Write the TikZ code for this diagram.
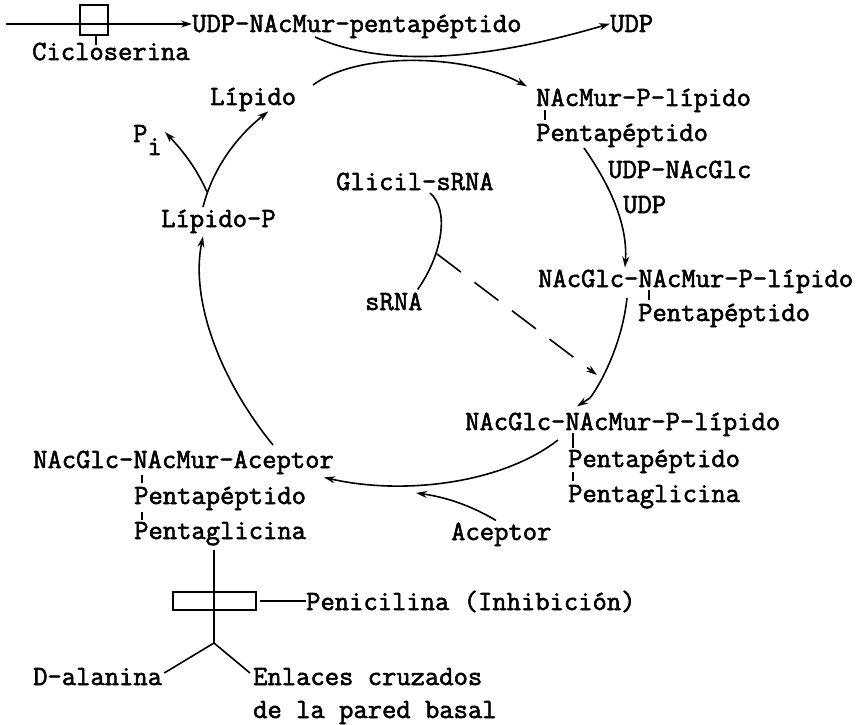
\documentclass[tikz,border=0pt]{standalone}
\usepackage{fontspec}
\setmainfont{Latin Modern Mono}[FakeBold=2]
\usetikzlibrary{arrows.meta,calc}
\begin{document}
\begin{tikzpicture}[x=1bp,y=-1bp,
  lbl/.style={anchor=base west,inner sep=0pt,font=\fontsize{27.8bp}{30bp}\selectfont},
  conn/.style={line width=1.6bp},
  arr/.style={conn,-{Stealth[length=11bp,width=7bp]}},
  tick/.style={line width=1.3bp},
  dashconn/.style={arr,dash pattern=on 30bp off 17bp}]
\fill[white] (0,0) rectangle (860,725);
\useasboundingbox (0,0) rectangle (860,725);

% labels
\node[lbl] (udpnam) at (192,32) {UDP-NAcMur-pentapéptido};
\node[lbl] (udp1) at (610,32) {UDP};
\node[lbl] (ciclo) at (32,60) {Cicloserina};
\node[lbl] (lip) at (210,105) {Lípido};
\node[lbl] (nmpl) at (536,106) {NAcMur-P-lípido};
\node[lbl] (pp1) at (536,141) {Pentapéptido};
\node[lbl] (udpnag) at (608,178) {UDP-NAcGlc};
\node[lbl] (udp2) at (623,213) {UDP};
\node[lbl] (gnmpl) at (538,287) {NAcGlc-NAcMur-P-lípido};
\node[lbl] (pp2) at (638,321) {Pentapéptido};
\node[lbl] (glicil) at (336,190) {Glicil-sRNA};
\node[lbl] (srna) at (365,310) {sRNA};
\node[lbl] (pi) at (133,142) {P\raisebox{-13bp}{i}};
\node[lbl] (lipp) at (161,227) {Lípido-P};
\node[lbl] (gnmpl3) at (465,430) {NAcGlc-NAcMur-P-lípido};
\node[lbl] (pp3) at (568,467) {Pentapéptido};
\node[lbl] (pg3) at (568,502) {Pentaglicina};
\node[lbl] (acep) at (451,540) {Aceptor};
\node[lbl] (gnma) at (33,468) {NAcGlc-NAcMur-Aceptor};
\node[lbl] (pp4) at (134,504) {Pentapéptido};
\node[lbl] (pg4) at (134,539) {Pentaglicina};
\node[lbl] (peni) at (306,610) {Penicilina (Inhibición)};
\node[lbl] (dala) at (33,685) {D-alanina};
\node[lbl] (enl) at (253,685) {Enlaces cruzados};
\node[lbl] (pared) at (253,718) {de la pared basal};

% cycloserine block on the feed line
\coordinate (feed) at (6,24);
\draw[arr] (feed) -- (udpnam.west |- feed);
\node[draw,line width=1.2bp,minimum width=28bp,minimum height=30bp,inner sep=0pt] (cbox) at (94,20) {};
\draw[tick] (cbox.south -| 96,0) -- ($(ciclo.base west)+(64,-15)$);

% bond ticks between stacked residues
\draw[tick] ($(nmpl.base west)+(9,4)$) -- ($(pp1.base west)+(9,-21)$);
\draw[tick] ($(gnmpl.base west)+(111,3)$) -- ($(pp2.base west)+(11,-21)$);
\draw[tick] ($(gnmpl3.base west)+(108,3)$) -- ($(pp3.base west)+(5,-19)$);
\draw[tick] ($(pp3.base west)+(5,5)$) -- ($(pg3.base west)+(5,-21)$);
\draw[tick] ($(gnma.base west)+(109,7)$) -- ($(pp4.base west)+(8,-21)$);
\draw[tick] ($(pp4.base west)+(8,8)$) -- ($(pg4.base west)+(8,-19)$);

% top exchange: UDP released, lipid loaded
\draw[arr] (315,37) .. controls (400,75) and (520,50) .. (udp1.west);
\draw[arr] (313,85) .. controls (360,50) and (470,55) .. ($(nmpl.north west)+(-9,-2)$);

% the cycle
\coordinate (lpTop) at (203,207);
\draw[arr] (lpTop) .. controls (215,160) and (245,130) .. ($(lip.south east)+(-28,0)$);
\draw[arr] (207,192) .. controls (195,165) and (180,148) .. ($(pi.east)+(3,-8)$);
\draw[arr] (584,148) .. controls (610,185) and (628,225) .. ($(gnmpl.north west)+(87,-2)$);
\draw[conn] (627,298) .. controls (622,345) and (600,385) .. (590,398);
\draw[arr] (590,398) -- ($(gnmpl3.north west)+(112,-6)$);
\draw[arr] (558,440) .. controls (500,485) and (400,495) .. ($(gnma.south east)+(-10,3)$);
\draw[arr] (acep.north west)+(45,-2) .. controls (470,505) and (445,497) .. (416,493);
\draw[arr] (273,445) .. controls (220,380) and (190,300) .. ($(lipp.south west)+(42,3)$);

% glycyl transfer
\draw[conn] (430,193) .. controls (450,210) and (442,255) .. ($(srna.north east)+(-5,-3)$);
\draw[dashconn] (437,254) -- (597,375);

% penicillin block and cross-link branch
\coordinate (stem) at (214,550);
\coordinate (fork) at (214,643);
\draw[conn] (stem) -- (fork);
\node[draw,line width=1.2bp,minimum width=83bp,minimum height=18bp,inner sep=0pt] (pbox) at (214.5,601) {};
\draw[conn] (pbox.east) ++(3,0) -- (peni.west |- pbox.east);
\draw[conn] (fork) -- ($(dala.base east)+(2,-12)$);
\draw[conn] (fork) -- ($(enl.base west)+(-3,-12)$);
\end{tikzpicture}
\end{document}
